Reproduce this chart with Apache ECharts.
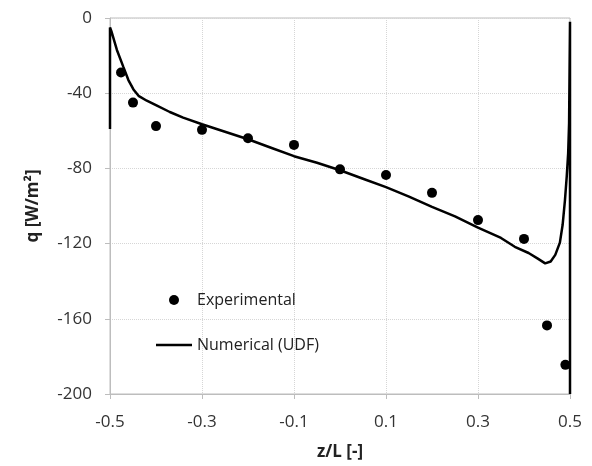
<!DOCTYPE html>
<html>
<head>
<meta charset="utf-8">
<script src="https://cdn.jsdelivr.net/npm/echarts@6/dist/echarts.min.js"></script>
<style>
  html, body { margin: 0; padding: 0; background: #fff; }
  #chart { width: 592px; height: 466px; }
</style>
</head>
<body>
<div id="chart"></div>
<script>
// Experimental points (z/L, q)
const expZ = [-0.476, -0.45, -0.4, -0.3, -0.2, -0.1, 0, 0.1, 0.2, 0.3, 0.4, 0.45, 0.49]
const expQ = [-29, -45, -57.5, -59.5, -64, -67.5, -80.5, -83.5, -93, -107.5, -117.5, -163.5, -184.5]

// Numerical (UDF) curve
const numZ = [-0.5, -0.5, -0.497, -0.485, -0.471, -0.46, -0.449, -0.438, -0.42, -0.399, -0.37, -0.341,
  -0.3, -0.25, -0.2, -0.15, -0.1, -0.05, 0, 0.05, 0.1, 0.15, 0.2, 0.25, 0.3, 0.35, 0.38, 0.41, 0.43,
  0.446, 0.458, 0.468, 0.478, 0.484, 0.489, 0.493, 0.496, 0.498, 0.5, 0.5]
const numQ = [-59, -5, -7, -17, -26, -33, -38, -41.4, -44, -46.5, -50, -53,
  -56.5, -60.5, -64.5, -69, -73.5, -77, -81, -85.5, -90, -95, -100.5, -105.5, -111.5, -117, -121.7, -125, -128,
  -130.5, -129.5, -126, -119.5, -110, -97, -84, -72, -56, -2, -200]

const seriesNames = ['Experimental', 'Numerical (UDF)']

const font = '"Open Sans", sans-serif'
const gridColor = '#d6d6d6'
const axisColor = '#bdbdbd'

const chart = echarts.init(document.getElementById('chart'))

chart.setOption({
  animation: false,
  textStyle: { fontFamily: font },
  grid: {
    left: 110, right: 22, top: 18, bottom: 71,
    show: true, borderColor: axisColor, borderWidth: 1
  },
  legend: {
    orient: 'vertical',
    left: 151, top: 287,
    itemWidth: 36, itemHeight: 10, itemGap: 29,
    textStyle: { fontSize: 16, color: '#222', fontFamily: font },
    data: [
      { name: seriesNames[0], icon: 'circle', itemStyle: { color: '#000', opacity: 1 } },
      { name: seriesNames[1], icon: 'path://M0,0 L36,0 L36,2.5 L0,2.5 Z', itemStyle: { color: '#000' } }
    ]
  },
  xAxis: {
    type: 'value',
    min: -0.5, max: 0.5, interval: 0.2,
    name: 'z/L [-]',
    nameLocation: 'middle',
    nameGap: 50,
    nameTextStyle: { fontSize: 17, fontWeight: 'bold', color: '#222' },
    axisLine: { show: true, onZero: false, lineStyle: { color: axisColor } },
    axisTick: { show: true, length: 5, lineStyle: { color: axisColor } },
    axisLabel: { fontSize: 17, color: '#333', margin: 20, formatter: v => v.toFixed(1) },
    splitLine: { show: true, lineStyle: { color: gridColor, type: 'dotted' } }
  },
  yAxis: {
    type: 'value',
    min: -200, max: 0, interval: 40,
    name: 'q [W/m²]',
    nameLocation: 'middle',
    nameGap: 68,
    nameRotate: 90,
    nameTextStyle: { fontSize: 17, fontWeight: 'bold', color: '#222' },
    axisLine: { show: true, onZero: false, lineStyle: { color: axisColor } },
    axisTick: { show: true, length: 5, lineStyle: { color: axisColor } },
    axisLabel: { fontSize: 17, color: '#333', margin: 18 },
    splitLine: { show: true, lineStyle: { color: gridColor, type: 'dotted' } }
  },
  series: [
    {
      name: seriesNames[0],
      type: 'scatter',
      symbol: 'circle',
      symbolSize: 10,
      itemStyle: { color: '#000', opacity: 1 },
      data: expZ.map((z, i) => [z, expQ[i]]),
      z: 3
    },
    {
      name: seriesNames[1],
      type: 'line',
      symbol: 'none',
      clip: true,
      lineStyle: { color: '#000', width: 2.5 },
      itemStyle: { color: '#000' },
      data: numZ.map((z, i) => [z, numQ[i]]),
      z: 2
    }
  ]
})
</script>
</body>
</html>
